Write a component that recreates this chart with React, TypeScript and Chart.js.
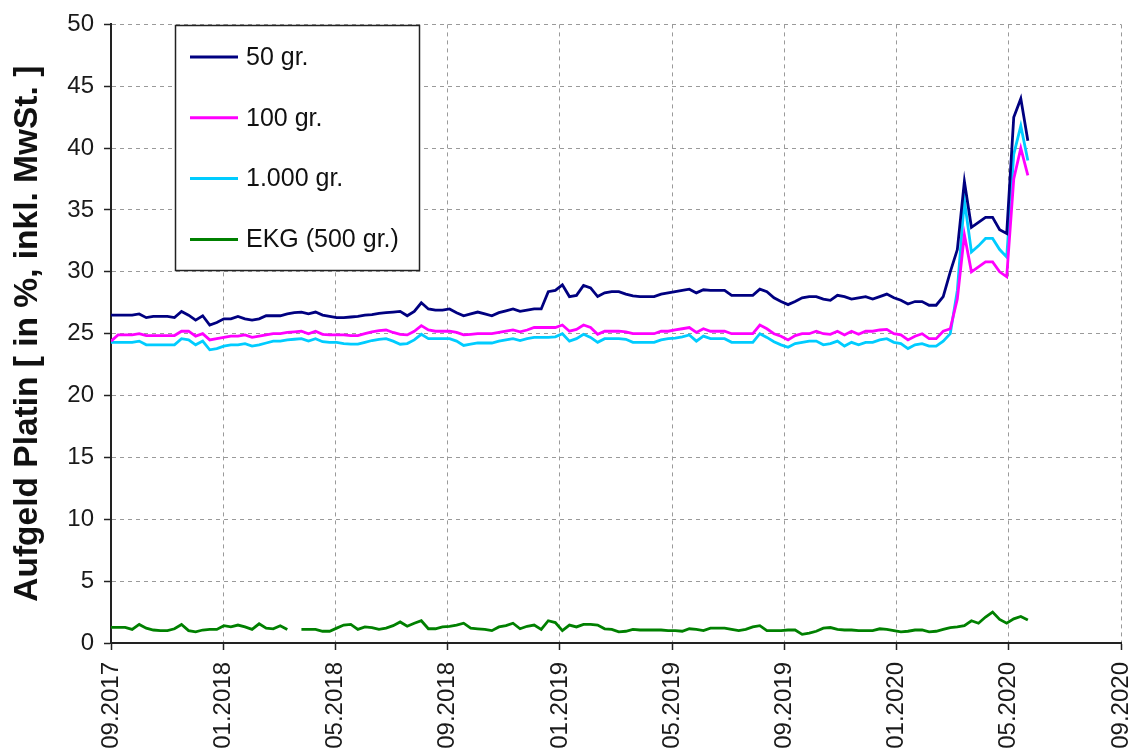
import React, { useEffect, useRef } from "react";
import { Chart, registerables } from "chart.js";

Chart.register(...registerables);

// x tick labels (every 4 months, axis from 09.2017 to 09.2020)
const tickLabels = ["09.2017", "01.2018", "05.2018", "09.2018", "01.2019", "05.2019", "09.2019", "01.2020", "05.2020", "09.2020"];

const seriesNames = ["50 gr.", "100 gr.", "1.000 gr.", "EKG (500 gr.)"];

// roughly weekly observations, starting 09.2017
const gr50 = [
  26.5, 26.5, 26.5, 26.5, 26.6, 26.3, 26.4, 26.4, 26.4, 26.3,
  26.8, 26.5, 26.1, 26.45, 25.7, 25.9, 26.2, 26.2, 26.4, 26.2,
  26.1, 26.2, 26.45, 26.45, 26.45, 26.6, 26.7, 26.75, 26.6, 26.75,
  26.5, 26.4, 26.3, 26.3, 26.35, 26.4, 26.5, 26.55, 26.65, 26.7,
  26.75, 26.8, 26.45, 26.8, 27.5, 27.0, 26.9, 26.9, 27.0, 26.7,
  26.45, 26.6, 26.75, 26.6, 26.45, 26.7, 26.85, 27.0, 26.8, 26.9,
  27.0, 27.0, 28.4, 28.5, 28.95, 28.0, 28.1, 28.9, 28.7, 28.0,
  28.3, 28.4, 28.4, 28.2, 28.05, 28.0, 28.0, 28.0, 28.2, 28.3,
  28.4, 28.5, 28.6, 28.3, 28.55, 28.5, 28.5, 28.5, 28.1, 28.1,
  28.1, 28.1, 28.6, 28.4, 27.9, 27.6, 27.35, 27.6, 27.9, 28.0,
  28.0, 27.8, 27.7, 28.1, 28.0, 27.8, 27.9, 28.0, 27.8, 28.0,
  28.2, 27.9, 27.7, 27.4, 27.6, 27.6, 27.3, 27.3, 28.0, 30.0,
  31.8, 37.3, 33.6, 34.0, 34.4, 34.4, 33.4, 33.1, 42.5, 44.0,
  40.6,
];

const gr100 = [
  24.4, 24.9, 24.9, 24.9, 25.0, 24.85, 24.85, 24.85, 24.85, 24.85,
  25.2, 25.2, 24.8, 25.0, 24.5, 24.6, 24.7, 24.8, 24.8, 24.9,
  24.7, 24.8, 24.9, 25.0, 25.0, 25.1, 25.15, 25.2, 25.0, 25.2,
  24.95, 24.9, 24.9, 24.9, 24.85, 24.85, 25.0, 25.15, 25.25, 25.3,
  25.1, 24.95, 24.9, 25.2, 25.65, 25.3, 25.2, 25.2, 25.2, 25.1,
  24.9, 24.95, 25.0, 25.0, 25.0, 25.1, 25.2, 25.3, 25.15, 25.3,
  25.5, 25.5, 25.5, 25.5, 25.7, 25.2, 25.35, 25.7, 25.5, 24.95,
  25.2, 25.2, 25.2, 25.15, 25.0, 25.0, 25.0, 25.0, 25.2, 25.2,
  25.3, 25.4, 25.5, 25.1, 25.4, 25.2, 25.2, 25.2, 25.0, 25.0,
  25.0, 25.0, 25.7, 25.4, 25.0, 24.8, 24.5, 24.85, 25.0, 25.0,
  25.2, 25.0, 24.95, 25.2, 24.9, 25.2, 24.95, 25.2, 25.2, 25.3,
  25.35, 25.0, 24.9, 24.5, 24.8, 25.0, 24.6, 24.6, 25.2, 25.4,
  27.8, 33.0, 30.0, 30.4, 30.8, 30.8, 30.0, 29.6, 37.5, 40.0,
  37.8,
];

const gr1000 = [
  24.3, 24.3, 24.3, 24.3, 24.4, 24.1, 24.1, 24.1, 24.1, 24.1,
  24.6, 24.5, 24.1, 24.4, 23.7, 23.8, 24.0, 24.1, 24.1, 24.2,
  24.0, 24.1, 24.25, 24.4, 24.4, 24.5, 24.55, 24.6, 24.4, 24.6,
  24.35, 24.3, 24.3, 24.2, 24.15, 24.15, 24.3, 24.45, 24.55, 24.6,
  24.4, 24.15, 24.2, 24.5, 24.95, 24.6, 24.6, 24.6, 24.6, 24.4,
  24.05, 24.15, 24.25, 24.25, 24.25, 24.4, 24.5, 24.6, 24.45, 24.6,
  24.7, 24.7, 24.7, 24.75, 25.0, 24.4, 24.6, 24.95, 24.7, 24.3,
  24.6, 24.6, 24.6, 24.55, 24.3, 24.3, 24.3, 24.3, 24.5, 24.6,
  24.65, 24.75, 24.9, 24.4, 24.8, 24.6, 24.6, 24.6, 24.3, 24.3,
  24.3, 24.3, 25.0, 24.7, 24.35, 24.1, 23.9, 24.2, 24.3, 24.4,
  24.4, 24.1, 24.2, 24.4, 24.0, 24.3, 24.1, 24.3, 24.3, 24.5,
  24.6, 24.3, 24.2, 23.8, 24.1, 24.2, 24.0, 24.0, 24.4, 25.0,
  28.5, 35.8, 31.6, 32.1, 32.7, 32.7, 31.8, 31.2, 39.5, 41.8,
  39.0,
];

const ekg500 = [
  1.26, 1.26, 1.26, 1.1, 1.5, 1.2, 1.05, 1.0, 1.0, 1.15,
  1.5, 1.0, 0.9, 1.05, 1.1, 1.1, 1.4, 1.3, 1.45, 1.3,
  1.1, 1.55, 1.2, 1.15, 1.4, 1.1, null, 1.1, 1.1, 1.1,
  0.95, 0.95, 1.2, 1.45, 1.5, 1.1, 1.3, 1.25, 1.1, 1.2,
  1.4, 1.7, 1.35, 1.6, 1.8, 1.15, 1.15, 1.3, 1.35, 1.45,
  1.6, 1.2, 1.15, 1.1, 1.0, 1.3, 1.4, 1.6, 1.15, 1.35,
  1.45, 1.1, 1.8, 1.65, 1.0, 1.45, 1.3, 1.5, 1.5, 1.45,
  1.15, 1.1, 0.9, 0.95, 1.1, 1.05, 1.05, 1.05, 1.05, 1.0,
  1.0, 0.95, 1.15, 1.1, 1.0, 1.2, 1.2, 1.2, 1.1, 1.0,
  1.1, 1.3, 1.4, 1.0, 1.0, 1.0, 1.05, 1.05, 0.7, 0.8,
  0.95, 1.2, 1.25, 1.1, 1.05, 1.05, 1.0, 1.0, 1.0, 1.15,
  1.1, 1.0, 0.9, 0.95, 1.05, 1.05, 0.9, 0.95, 1.1, 1.25,
  1.3, 1.4, 1.8, 1.6, 2.1, 2.5, 1.9, 1.6, 1.95, 2.15,
  1.85,
];

// months since 09.2017 of the last observation (about mid-May 2020)
const LAST_MONTH = 32.68;

const FONT = "'Liberation Sans', Arial, sans-serif";

function toPoints(values: (number | null)[]) {
  const step = LAST_MONTH / (values.length - 1);
  return values.map((v, i) => ({ x: i * step, y: v }));
}

const boxLegend = {
  id: "boxLegend",
  afterDraw(chart: any) {
    const ctx = chart.ctx as CanvasRenderingContext2D;
    ctx.save();
    ctx.fillStyle = "#ffffff";
    ctx.fillRect(175, 25, 245, 246);
    ctx.strokeStyle = "#222222";
    ctx.lineWidth = 1.5;
    ctx.setLineDash([]);
    ctx.strokeRect(175.5, 25.5, 244, 245);
    ctx.font = `25px ${FONT}`;
    ctx.textBaseline = "middle";
    ctx.textAlign = "left";
    chart.data.datasets.forEach((ds: any, i: number) => {
      const y = 57 + i * 60.8;
      ctx.strokeStyle = ds.borderColor;
      ctx.lineWidth = 3;
      ctx.beginPath();
      ctx.moveTo(190, y);
      ctx.lineTo(238, y);
      ctx.stroke();
      ctx.fillStyle = "#111111";
      ctx.fillText(ds.label, 246, y + 1);
    });
    ctx.restore();
  },
};

export default function App() {
  const canvasRef = useRef<HTMLCanvasElement | null>(null);

  useEffect(() => {
    document.body.style.margin = "0";
    const canvas = canvasRef.current;
    if (!canvas) return;
    const colors = ["#000080", "#ff00ff", "#00ccff", "#008000"];
    const all = [gr50, gr100, gr1000, ekg500];
    const chart = new Chart(canvas, {
      type: "line",
      data: {
        datasets: all.map((vals, i) => ({
          label: seriesNames[i],
          data: toPoints(vals),
          borderColor: colors[i],
          backgroundColor: colors[i],
          borderWidth: 2.8,
          pointRadius: 0,
          tension: 0,
          spanGaps: false,
          fill: false,
        })),
      },
      options: {
        animation: false,
        responsive: false,
        devicePixelRatio: 1,
        layout: { padding: { top: 22, right: 15, left: 0, bottom: 0 } },
        plugins: {
          legend: { display: false },
          tooltip: { enabled: false },
        },
        scales: {
          x: {
            type: "linear",
            min: 0,
            max: 36,
            afterFit: (scale: any) => {
              scale.height = 108;
              scale.paddingLeft = 0;
              scale.paddingRight = 0;
            },
            ticks: {
              stepSize: 4,
              autoSkip: false,
              maxRotation: 90,
              minRotation: 90,
              padding: 12,
              color: "#1a1a1a",
              font: { family: FONT, size: 24 },
              callback: (value: any) => {
                const idx = Number(value) / 4;
                return Number.isInteger(idx) ? tickLabels[idx] : "";
              },
            },
            grid: {
              color: "#9a9a9a",
              lineWidth: 1,
              tickLength: 7,
              tickColor: "#222222",
              tickWidth: 1.5,
              tickBorderDash: [],
            },
            border: { display: true, color: "#222222", width: 2, dash: [4, 4] },
          },
          y: {
            type: "linear",
            min: 0,
            max: 50,
            afterFit: (scale: any) => {
              scale.width = 111;
            },
            ticks: {
              stepSize: 5,
              padding: 10,
              color: "#1a1a1a",
              font: { family: FONT, size: 24 },
            },
            grid: {
              color: "#9a9a9a",
              lineWidth: 1,
              tickLength: 7,
              tickColor: "#222222",
              tickWidth: 1.5,
              tickBorderDash: [],
            },
            border: { display: true, color: "#222222", width: 2, dash: [4, 4] },
            title: {
              display: true,
              text: "Aufgeld Platin [ in %, inkl. MwSt. ]",
              color: "#111111",
              font: { family: FONT, size: 33.5, weight: "bold" },
              padding: { top: 8, bottom: 0 },
            },
          },
        },
      },
      plugins: [boxLegend],
    } as any);
    return () => chart.destroy();
  }, []);

  return (
    <div style={{ width: 1136, height: 751 }}>
      <canvas ref={canvasRef} width={1136} height={751} style={{ width: 1136, height: 751, display: "block" }} />
    </div>
  );
}
